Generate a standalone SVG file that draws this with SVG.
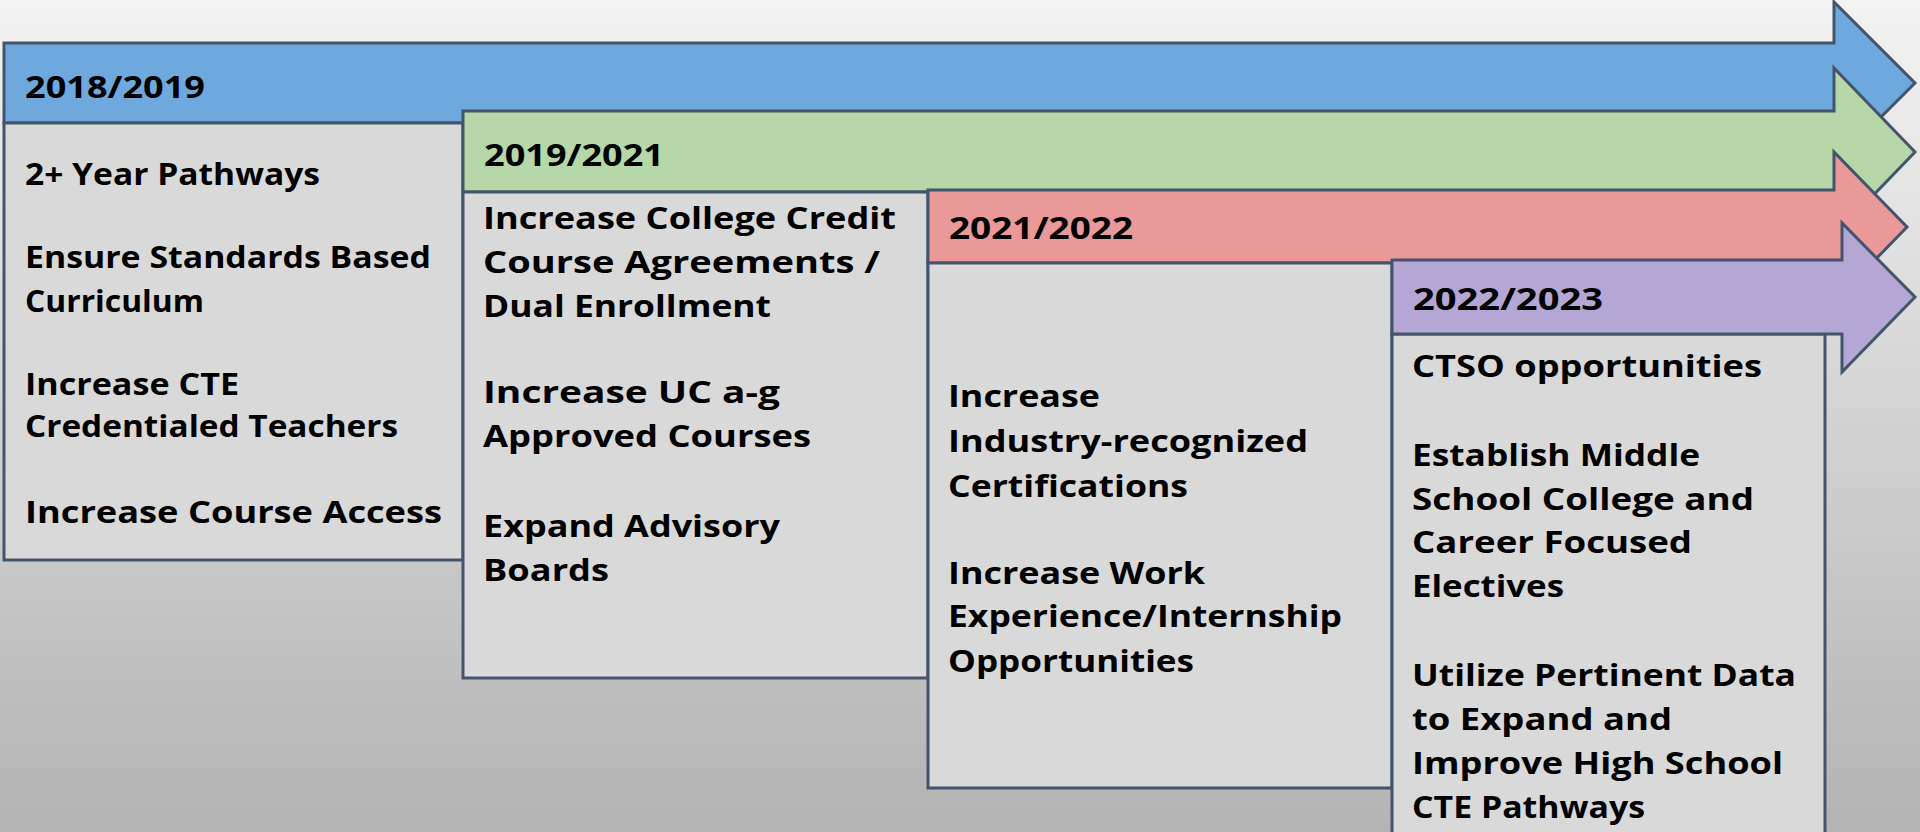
<svg xmlns="http://www.w3.org/2000/svg" width="1920" height="832" viewBox="0 0 1920 832">
<defs>
<linearGradient id="bg" x1="0" y1="0" x2="0" y2="1">
<stop offset="0" stop-color="#f3f3f3"/>
<stop offset="1" stop-color="#b3b3b3"/>
</linearGradient>
<style>
.arrow{stroke:#44546a;stroke-width:3;stroke-linejoin:miter}
.box{fill:#d9d9d9;stroke:#44546a;stroke-width:3}
.blue{fill:#6fa8dc}
.green{fill:#b6d7a8}
.red{fill:#ea9999}
.purple{fill:#b4a7d6}
text{font-family:"Open Sans","Noto Sans","DejaVu Sans",sans-serif;font-weight:700;font-size:31px;fill:#000}
</style>
</defs>
<rect x="0" y="0" width="1920" height="832" fill="url(#bg)"/>
<g id="connectors"/>

<g id="node-2018-2019">
<polygon class="arrow blue" points="4,43 1834,43 1834,2 1915,83 1834,164 1834,123 4,123"/>
<rect class="box" x="4" y="123" width="459" height="437"/>
<text x="25" y="98" textLength="180" lengthAdjust="spacingAndGlyphs">2018/2019</text>
<text x="25" y="185" textLength="295" lengthAdjust="spacingAndGlyphs">2+ Year Pathways</text>
<text x="25" y="268" textLength="406" lengthAdjust="spacingAndGlyphs">Ensure Standards Based</text>
<text x="25" y="312" textLength="179" lengthAdjust="spacingAndGlyphs">Curriculum</text>
<text x="25" y="395" textLength="214" lengthAdjust="spacingAndGlyphs">Increase CTE</text>
<text x="25" y="437" textLength="373" lengthAdjust="spacingAndGlyphs">Credentialed Teachers</text>
<text x="25" y="523" textLength="417" lengthAdjust="spacingAndGlyphs">Increase Course Access</text>
</g>

<g id="node-2019-2021">
<polygon class="arrow green" points="463,111 1834,111 1834,68 1915,152 1834,236 1834,192 463,192"/>
<rect class="box" x="463" y="192" width="465" height="486"/>
<text x="484" y="166" textLength="180" lengthAdjust="spacingAndGlyphs">2019/2021</text>
<text x="483" y="229" textLength="413" lengthAdjust="spacingAndGlyphs">Increase College Credit</text>
<text x="483" y="273" textLength="397" lengthAdjust="spacingAndGlyphs">Course Agreements /</text>
<text x="483" y="317" textLength="288" lengthAdjust="spacingAndGlyphs">Dual Enrollment</text>
<text x="483" y="403" textLength="297" lengthAdjust="spacingAndGlyphs">Increase UC a-g</text>
<text x="483" y="447" textLength="328" lengthAdjust="spacingAndGlyphs">Approved Courses</text>
<text x="483" y="537" textLength="297" lengthAdjust="spacingAndGlyphs">Expand Advisory</text>
<text x="483" y="581" textLength="126" lengthAdjust="spacingAndGlyphs">Boards</text>
</g>

<g id="node-2021-2022">
<polygon class="arrow red" points="928,190 1834,190 1834,152 1907,227 1834,302 1834,263 928,263"/>
<rect class="box" x="928" y="263" width="464" height="525"/>
<text x="949" y="239" textLength="184" lengthAdjust="spacingAndGlyphs">2021/2022</text>
<text x="948" y="407" textLength="152" lengthAdjust="spacingAndGlyphs">Increase</text>
<text x="948" y="452" textLength="360" lengthAdjust="spacingAndGlyphs">Industry-recognized</text>
<text x="948" y="497" textLength="240" lengthAdjust="spacingAndGlyphs">Certifications</text>
<text x="948" y="584" textLength="257" lengthAdjust="spacingAndGlyphs">Increase Work</text>
<text x="948" y="627" textLength="394" lengthAdjust="spacingAndGlyphs">Experience/Internship</text>
<text x="948" y="672" textLength="246" lengthAdjust="spacingAndGlyphs">Opportunities</text>
</g>

<g id="node-2022-2023">
<rect class="box" x="1392" y="334" width="433" height="520"/>
<text x="1412" y="377" textLength="350" lengthAdjust="spacingAndGlyphs">CTSO opportunities</text>
<text x="1412" y="466" textLength="288" lengthAdjust="spacingAndGlyphs">Establish Middle</text>
<text x="1412" y="510" textLength="342" lengthAdjust="spacingAndGlyphs">School College and</text>
<text x="1412" y="553" textLength="280" lengthAdjust="spacingAndGlyphs">Career Focused</text>
<text x="1412" y="597" textLength="152" lengthAdjust="spacingAndGlyphs">Electives</text>
<text x="1412" y="686" textLength="384" lengthAdjust="spacingAndGlyphs">Utilize Pertinent Data</text>
<text x="1412" y="730" textLength="260" lengthAdjust="spacingAndGlyphs">to Expand and</text>
<text x="1412" y="774" textLength="371" lengthAdjust="spacingAndGlyphs">Improve High School</text>
<text x="1412" y="818" textLength="233" lengthAdjust="spacingAndGlyphs">CTE Pathways</text>
<polygon class="arrow purple" points="1392,260 1842,260 1842,223 1915,297 1842,372 1842,334 1392,334"/>
<text x="1413" y="310" textLength="190" lengthAdjust="spacingAndGlyphs">2022/2023</text>
</g>
</svg>
